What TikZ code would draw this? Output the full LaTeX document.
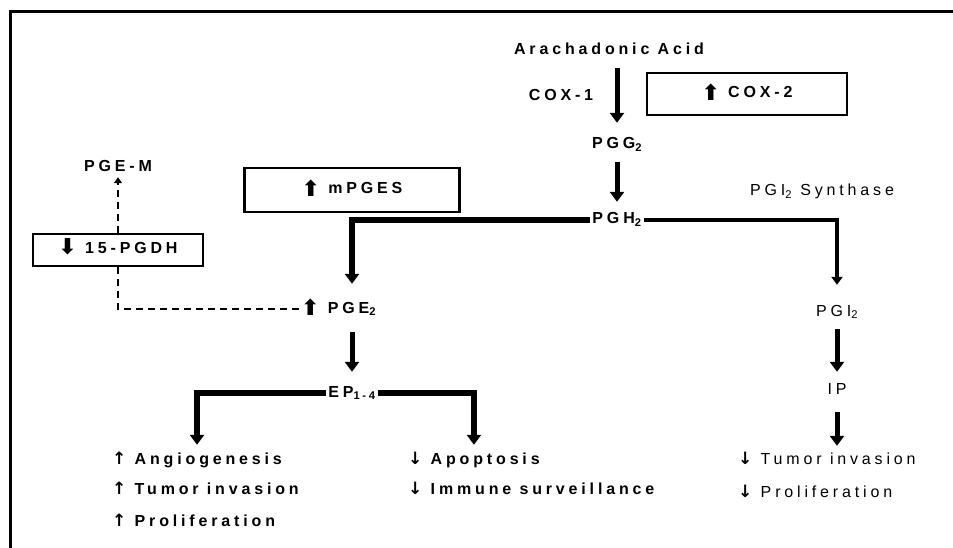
\documentclass[tikz,border=0pt]{standalone}
\usepackage{fontspec}
\setmainfont{Liberation Sans}[LetterSpace=24]
\newfontfamily\symfont{DejaVu Sans}
\usepackage{tikz}
\usetikzlibrary{positioning, arrows.meta}

\newcommand{\upA}{\raisebox{-2.5pt}{\symfont\fontsize{22}{22}\selectfont ⬆}}
\newcommand{\downA}{\raisebox{-1pt}{\symfont\fontsize{22}{22}\selectfont ⬇}}
\newcommand{\upT}{{\symfont\bfseries\fontsize{17}{17}\selectfont ↑}}
\newcommand{\downT}{{\symfont\bfseries\fontsize{17}{17}\selectfont ↓}}

\begin{document}
\begin{tikzpicture}[x=1pt, y=-1pt, on grid, node distance=80pt,
    every node/.style={font=\fontsize{16}{18}\selectfont\bfseries, text height=11pt, text depth=3pt, inner sep=2pt},
    regbox/.style={draw, line width=2.5pt},
    faded/.style={font=\fontsize{16}{18}\selectfont},
    flow/.style={line width=5pt, -{Triangle[width=14pt,length=10pt]}, shorten <=8pt, shorten >=9pt},
    elbow/.style={line width=6pt, -{Triangle[width=14pt,length=10pt]}, shorten >=6pt},
    thinelbow/.style={line width=3.5pt, -{Triangle[width=11pt,length=8pt]}, shorten >=18pt},
    dashline/.style={line width=2pt, dash pattern=on 7pt off 5pt}]

        \useasboundingbox (0,0) rectangle (953,548);
        \draw[line width=3pt] (10,548) -- (10,12) -- (953,12);

        \node (acid) at (609,51) {Arachadonic Acid};
        \node (cox1) at (561,97) {COX-1};
        \node[regbox, minimum width=200pt, minimum height=42pt] (cox2) at (747,94) {\upA\ COX-2};
        \node (pgg) [below right=94pt and 8pt of acid] {PGG\textsubscript{2}};
        \node (pgh) [below=75pt of pgg] {PGH\textsubscript{2}};

        \node[regbox, minimum width=215pt, minimum height=44pt] (mpges) at (352,190) {\upA\ mPGES};
        \node (pge) [below=119pt of mpges, label={[name=pgeup, label distance=4pt]left:\upA}] {PGE\textsubscript{2}};
        \node (ep) [below=84pt of pge] {EP\textsubscript{1-4}};

        \node[regbox, minimum width=170pt, minimum height=32pt] (pgdh) at (118,250) {\downA\ 15-PGDH};
        \node (pgem) [above=82pt of pgdh] {PGE-M};

        \node[faded] (synth) at (822,192) {PGI\textsubscript{2} Synthase};
        \node[faded] (pgi) [below right=120pt and 15pt of synth] {PGI\textsubscript{2}};
        \node[faded] (ip) [below=78pt of pgi] {IP};

        \node[anchor=west] (angio) at (110,460) {\upT\ Angiogenesis};
        \node[anchor=west] (tumor) at (110,490) {\upT\ Tumor invasion};
        \node[anchor=west] (prolif) at (110,522) {\upT\ Proliferation};
        \node[anchor=west] (apop) at (406,460) {\downT\ Apoptosis};
        \node[anchor=west] (immune) at (406,490) {\downT\ Immune surveillance};
        \node[faded, anchor=west] (tumorR) at (736,460) {\downT\ Tumor invasion};
        \node[faded, anchor=west] (prolifR) at (736,493) {\downT\ Proliferation};

        \draw[flow, shorten >=13pt] (acid.south -| pgg) -- (pgg.north);
        \draw[flow] (pgg) -- (pgh);
        \draw[elbow, shorten >=16pt] (pgh.west) -| (pge.north);
        \draw[thinelbow] (pgh.east) -| (pgi.north);
        \draw[flow, shorten <=14pt, shorten >=12pt] (pge) -- (ep);
        \draw[elbow] (ep.west) -| (angio.north);
        \draw[elbow] (ep.east) -| (apop.north);
        \draw[flow] (pgi) -- (ip);
        \draw[flow, shorten <=13pt, shorten >=5pt] (ip.south) -- (ip |- tumorR.north);

        \draw[dashline, -{Triangle[width=8pt,length=6pt]}] (pgdh.north) -- (pgem.south);
        \draw[dashline] (pgdh.south) |- (pgeup.west);

\end{tikzpicture}
\end{document}
